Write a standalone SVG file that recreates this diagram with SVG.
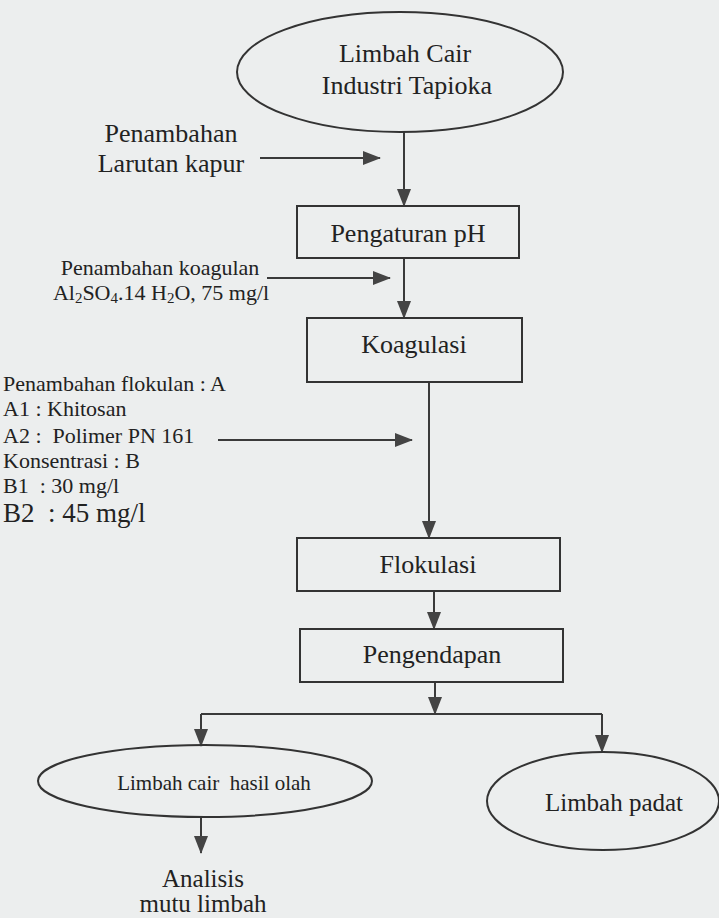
<svg xmlns="http://www.w3.org/2000/svg" width="719" height="918" viewBox="0 0 719 918">
<defs>
<style>
text{font-family:"Liberation Serif","Times New Roman",serif;fill:#222;white-space:pre}
.node{fill:none;stroke:#333;stroke-width:2}
.c{fill:none;stroke:#3a3a3a;stroke-width:2;marker-end:url(#ah)}
.l{fill:none;stroke:#3a3a3a;stroke-width:2}
.m{text-anchor:middle}
</style>
<marker id="ah" markerUnits="userSpaceOnUse" markerWidth="18" markerHeight="14" refX="17" refY="7" orient="auto">
<path d="M0,0 L18,7 L0,14 z" fill="#444"/>
</marker>
</defs>
<rect width="719" height="918" fill="#eceeee"/>
<g id="connectors">
<line class="c" x1="404" y1="132" x2="404" y2="206"/>
<line class="c" x1="404" y1="258" x2="404" y2="318"/>
<line class="c" x1="429" y1="382" x2="429" y2="538"/>
<line class="c" x1="434" y1="591" x2="434" y2="629"/>
<line class="c" x1="435" y1="682" x2="435" y2="714"/>
<line class="l" x1="201" y1="714" x2="602" y2="714"/>
<line class="c" x1="201" y1="714" x2="201" y2="746"/>
<line class="c" x1="602" y1="714" x2="602" y2="752"/>
<line class="c" x1="201" y1="817" x2="201" y2="853"/>
<line class="c" x1="260" y1="158" x2="380" y2="158"/>
<line class="c" x1="267" y1="278" x2="390" y2="278"/>
<line class="c" x1="218" y1="440" x2="412" y2="440"/>
</g>
<g id="limbah-cair-industri">
<ellipse class="node" cx="400" cy="72" rx="163" ry="60"/>
<text class="m" x="405" y="62" font-size="26">Limbah Cair</text>
<text class="m" x="407" y="94" font-size="26">Industri Tapioka</text>
</g>
<g id="penambahan-kapur">
<text class="m" x="171" y="142" font-size="26">Penambahan</text>
<text class="m" x="171" y="172" font-size="26">Larutan kapur</text>
</g>
<g id="pengaturan-ph">
<rect class="node" x="297" y="206" width="222" height="52"/>
<text class="m" x="408" y="242" font-size="26">Pengaturan pH</text>
</g>
<g id="penambahan-koagulan">
<text class="m" x="160" y="275" font-size="22">Penambahan koagulan</text>
<text class="m" x="161" y="300" font-size="22">Al<tspan font-size="15" dy="3">2</tspan><tspan dy="-3">SO</tspan><tspan font-size="15" dy="3">4</tspan><tspan dy="-3">.14 H</tspan><tspan font-size="15" dy="3">2</tspan><tspan dy="-3">O, 75 mg/l</tspan></text>
</g>
<g id="koagulasi">
<rect class="node" x="307" y="318" width="215" height="64"/>
<text class="m" x="414" y="353" font-size="26">Koagulasi</text>
</g>
<g id="penambahan-flokulan">
<text x="3" y="391" font-size="22">Penambahan flokulan : A</text>
<text x="3" y="416" font-size="22">A1 : Khitosan</text>
<text x="3" y="443" font-size="22">A2 :  Polimer PN 161</text>
<text x="3" y="468" font-size="22">Konsentrasi : B</text>
<text x="3" y="493" font-size="22">B1  : 30 mg/l</text>
<text x="3" y="522" font-size="27">B2  : 45 mg/l</text>
</g>
<g id="flokulasi">
<rect class="node" x="297" y="538" width="263" height="53"/>
<text class="m" x="428" y="573" font-size="26">Flokulasi</text>
</g>
<g id="pengendapan">
<rect class="node" x="300" y="629" width="263" height="53"/>
<text class="m" x="432" y="663" font-size="26">Pengendapan</text>
</g>
<g id="limbah-cair-hasil-olah">
<ellipse class="node" cx="205" cy="781" rx="167" ry="36"/>
<text class="m" x="214" y="790" font-size="21">Limbah cair  hasil olah</text>
</g>
<g id="limbah-padat">
<ellipse class="node" cx="603" cy="801" rx="116" ry="49"/>
<text class="m" x="614" y="811" font-size="25">Limbah padat</text>
</g>
<g id="analisis">
<text class="m" x="203" y="887" font-size="25">Analisis</text>
<text class="m" x="203" y="912" font-size="25">mutu limbah</text>
</g>
</svg>
